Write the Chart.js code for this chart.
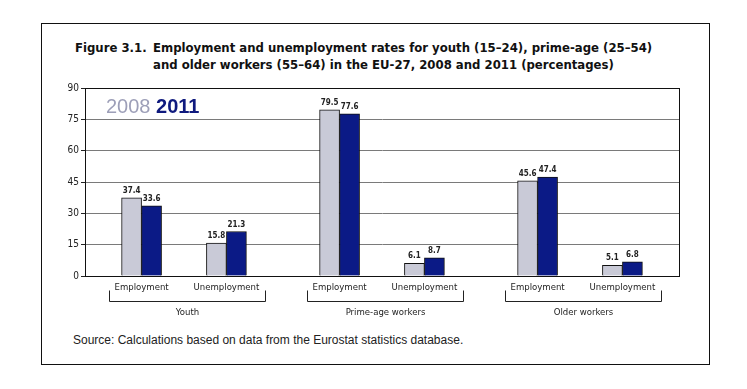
<!DOCTYPE html>
<html>
<head>
<meta charset="utf-8">
<script src="https://cdn.jsdelivr.net/npm/chart.js@4"></script>
<style>
  body { margin: 0; background: #fff; }
  #page { position: relative; width: 747px; height: 389px; overflow: hidden; }
  #box { position: absolute; left: 41px; top: 23px; width: 667px; height: 340px; border: 1.5px solid #111; }
  #title { position: absolute; left: 75px; top: 39px; font: bold 13px "DejaVu Sans Condensed", sans-serif; line-height: 17px; color: #111; display: flex; }
  #title .num { width: 78px; flex: none; }
  #source { position: absolute; left: 73px; top: 333px; font: 12px "Liberation Sans", Arial, sans-serif; color: #222; }
  #wrap { position: absolute; left: 41px; top: 75px; width: 668px; height: 255px; }
</style>
</head>
<body>
<div id="page">
  <div id="box"></div>
  <div id="title"><span class="num">Figure 3.1.</span><span>Employment and unemployment rates for youth (15–24), prime-age (25–54)<br>and older workers (55–64) in the EU-27, 2008 and 2011 (percentages)</span></div>
  <div id="wrap"><canvas id="chart"></canvas></div>
  <div id="source">Source: Calculations based on data from the Eurostat statistics database.</div>
</div>
<script>
const groups = ["Youth", "Prime-age workers", "Older workers"];
const categories = ["Employment", "Unemployment", "Employment", "Unemployment", "Employment", "Unemployment"];
const values2008 = [37.4, 15.8, 79.5, 6.1, 45.6, 5.1];
const values2011 = [33.6, 21.3, 77.6, 8.7, 47.4, 6.8];
const yTicks = [0, 15, 30, 45, 60, 75, 90];

// slot layout on the category axis: empty slots make the wider gaps between groups
const gaps = [2, 3, 4, 3, 4, 3, 2];
const slots = gaps.reduce((a, b) => a + b, 0) + 1;
const slotIndex = [];
let pos = 0;
for (let i = 0; i < categories.length; i++) { pos += gaps[i]; slotIndex.push(pos); }

const labels = new Array(slots).fill("");
const d2008 = new Array(slots).fill(null);
const d2011 = new Array(slots).fill(null);
slotIndex.forEach((s, i) => {
    labels[s] = categories[i];
    d2008[s] = values2008[i];
    d2011[s] = values2011[i];
});

const COND = '"DejaVu Sans Condensed", "DejaVu Sans", sans-serif';

const decor = {
    id: "decor",
    afterDatasetsDraw(chart) {
        const ctx = chart.ctx;
        const a = chart.chartArea;
        const x = chart.scales.x;
        ctx.save();
        // frame
        ctx.strokeStyle = "#111";
        ctx.lineWidth = 1;
        ctx.strokeRect(a.left + 0.5, a.top + 0.5, a.right - a.left, a.bottom - a.top);

        // value labels
        ctx.font = "bold 8px " + COND;
        ctx.fillStyle = "#222";
        ctx.textAlign = "center";
        ctx.textBaseline = "bottom";
        chart.data.datasets.forEach((ds, di) => {
            const meta = chart.getDatasetMeta(di);
            meta.data.forEach((bar, i) => {
                if (ds.data[i] == null) return;
                ctx.fillText(ds.data[i].toFixed(1), bar.x, bar.y - 3);
            });
        });

        // legend text
        ctx.textAlign = "left";
        ctx.textBaseline = "alphabetic";
        ctx.font = '20px "Liberation Sans", Arial, sans-serif';
        ctx.fillStyle = "#9d9fb8";
        ctx.fillText("2008", a.left + 21, a.top + 25);
        const w = ctx.measureText("2008 ").width;
        ctx.font = 'bold 20px "Liberation Sans", Arial, sans-serif';
        ctx.fillStyle = "#0f1a7e";
        ctx.fillText("2011", a.left + 21 + w, a.top + 25);

        // group brackets and labels
        ctx.strokeStyle = "#222";
        ctx.fillStyle = "#222";
        ctx.font = "9.5px " + COND;
        ctx.textAlign = "center";
        ctx.textBaseline = "middle";
        const top = a.bottom + 14.5, bot = a.bottom + 25.5;
        groups.forEach((g, gi) => {
            const l = Math.round(x.getPixelForValue(slotIndex[gi * 2]) - 33) + 0.5;
            const r = Math.round(x.getPixelForValue(slotIndex[gi * 2 + 1]) + 39) + 0.5;
            ctx.beginPath();
            ctx.moveTo(l, top); ctx.lineTo(l, bot); ctx.lineTo(r, bot); ctx.lineTo(r, top);
            ctx.stroke();
            ctx.fillText(g, (l + r) / 2, a.bottom + 36.5);
        });
        ctx.restore();
    }
};

new Chart(document.getElementById("chart"), {
    type: "bar",
    data: {
        labels: labels,
        datasets: [
            { label: "2008", data: d2008, backgroundColor: "#c9cad7", borderColor: "#111", borderWidth: 1, barThickness: 20 },
            { label: "2011", data: d2011, backgroundColor: "#0b1a86", borderColor: "#111", borderWidth: 1, barThickness: 20 }
        ]
    },
    options: {
        responsive: true,
        maintainAspectRatio: false,
        animation: false,
        layout: { padding: { top: 13, right: 30, left: 0, bottom: 0 } },
        plugins: { legend: { display: false }, tooltip: { enabled: false } },
        scales: {
            x: {
                offset: false,
                grid: { display: false, drawTicks: false },
                border: { color: "#111", width: 1 },
                ticks: { autoSkip: false, maxRotation: 0, padding: 6, color: "#222", font: { family: COND, size: 9.5 } },
                afterFit: s => { s.height = 54; }
            },
            y: {
                min: yTicks[0],
                max: yTicks[yTicks.length - 1],
                afterBuildTicks: s => { s.ticks = yTicks.map(v => ({ value: v })); },
                grid: { color: "#7a7a7a", tickColor: "#222", tickLength: 4 },
                border: { color: "#111", width: 1 },
                ticks: { padding: 2, color: "#222", font: { family: COND, size: 10 } },
                afterFit: s => { s.width = 44; }
            }
        }
    },
    plugins: [decor]
});
</script>
</body>
</html>
